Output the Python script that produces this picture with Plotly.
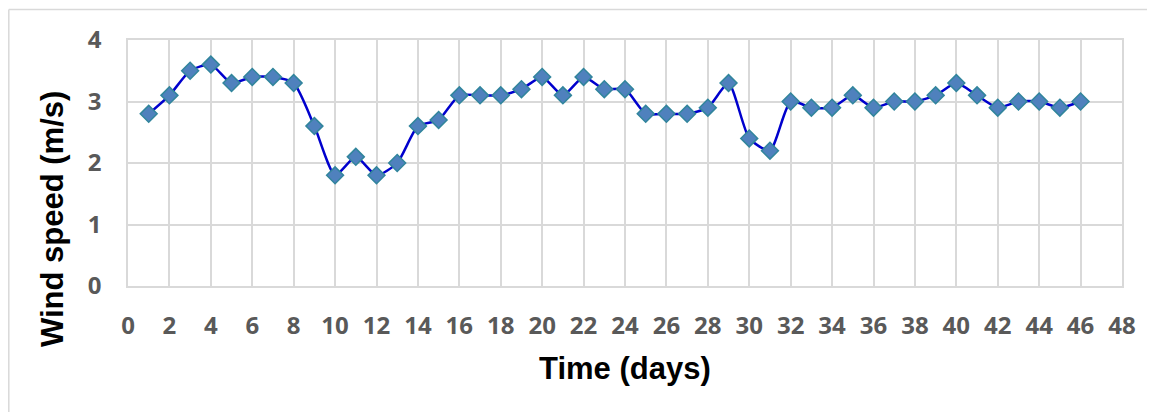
import plotly.graph_objects as go

days = list(range(1, 47))
wind_speed = [2.8, 3.1, 3.5, 3.6, 3.3, 3.4, 3.4, 3.3, 2.6, 1.8,
              2.1, 1.8, 2.0, 2.6, 2.7, 3.1, 3.1, 3.1, 3.2, 3.4,
              3.1, 3.4, 3.2, 3.2, 2.8, 2.8, 2.8, 2.9, 3.3, 2.4,
              2.2, 3.0, 2.9, 2.9, 3.1, 2.9, 3.0, 3.0, 3.1, 3.3,
              3.1, 2.9, 3.0, 3.0, 2.9, 3.0]
x_ticks = list(range(0, 49, 2))
y_ticks = [0, 1, 2, 3, 4]

# page has an 8px body margin; figure occupies page (8..1155, 8..412)
OFF = 8
W, H = 1155 - OFF, 412 - OFF
PL, PR, PT, PB = 128, 1122, 40, 286   # plot area in page pixels
L, R, T, B = PL - OFF, W - (PR - OFF), PT - OFF, H - (PB - OFF)
pw, ph = PR - PL, PB - PT

fig = go.Figure()
fig.add_trace(go.Scatter(
    x=days, y=wind_speed, mode="lines+markers",
    line=dict(color="#0000CD", width=2.5, shape="spline", smoothing=0.6),
    marker=dict(symbol="diamond", size=13, color="#4F81BD",
                line=dict(color="#31859C", width=1.5)),
    showlegend=False,
))

grid = "#D9D9D9"
tickfont = dict(family="Open Sans", size=24, color="#595959", weight="bold")
fig.update_xaxes(range=[0, 48], tickvals=x_ticks, ticktext=[str(v) for v in x_ticks],
                 showgrid=True, gridcolor=grid, gridwidth=1.5,
                 showline=True, linecolor=grid, linewidth=1.5, mirror=True,
                 zeroline=False, ticks="", tickfont=tickfont, ticklabelstandoff=17)
fig.update_yaxes(range=[0, 4], tickvals=y_ticks, ticktext=[str(v) for v in y_ticks],
                 showgrid=True, gridcolor=grid, gridwidth=1.5,
                 showline=True, linecolor=grid, linewidth=1.5, mirror=True,
                 zeroline=False, ticks="", tickfont=tickfont, ticklabelstandoff=20)

def px(xp):
    return (xp - PL) / pw

def py(yp):
    return (PB - yp) / ph

titlefont = dict(family="Liberation Sans", size=31, color="#000000", weight="bold")
fig.add_annotation(text="Time (days)", x=px(625), y=py(368), xref="paper", yref="paper",
                   showarrow=False, xanchor="center", yanchor="middle", font=titlefont)
fig.add_annotation(text="Wind speed (m/s)", x=px(52), y=py(219), xref="paper", yref="paper",
                   showarrow=False, xanchor="center", yanchor="middle", textangle=-90,
                   font=titlefont)

border = dict(color=grid, width=1.5)
fig.add_shape(type="line", xref="paper", yref="paper", x0=px(8.8), x1=px(1160),
              y0=py(9.5), y1=py(9.5), line=border)
fig.add_shape(type="line", xref="paper", yref="paper", x0=px(8.8), x1=px(8.8),
              y0=py(9.5), y1=py(420), line=border)

fig.update_layout(width=W, height=H, margin=dict(l=L, r=R, t=T, b=B),
                  paper_bgcolor="white", plot_bgcolor="white")
fig.write_html("out.html")
